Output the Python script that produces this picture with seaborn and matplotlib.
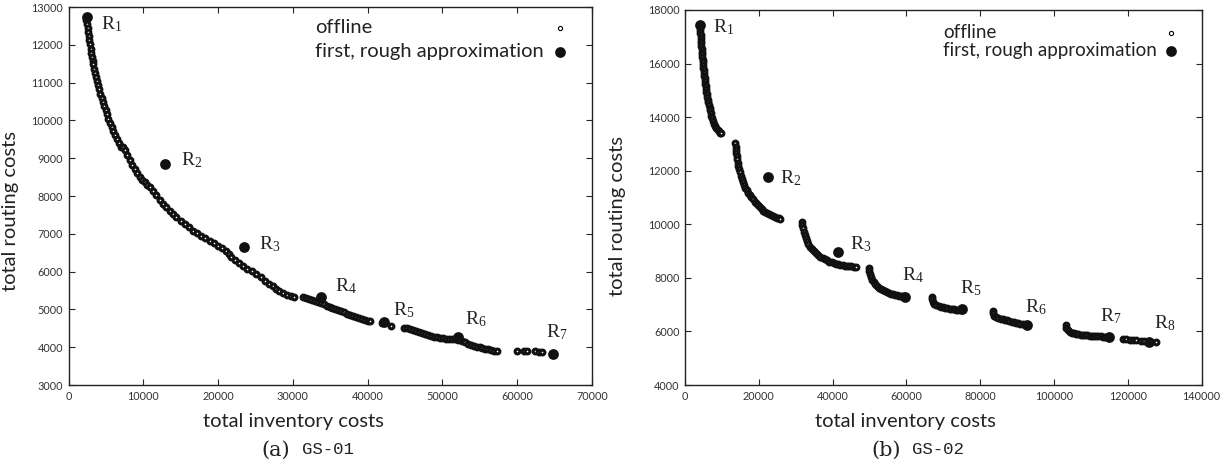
import numpy as np
import pandas as pd
import seaborn as sns
import matplotlib.pyplot as plt

# ---- GS-01 : offline pareto points
gs01_off_x = [2400, 2450, 2550, 2620, 2700, 2780, 2860, 2950, 3040, 3130, 3230, 3330, 3450, 3580,
              3700, 3830, 3960, 4100, 4250, 4420, 4600, 4780, 4960, 5150, 5340, 5530, 5750, 5980,
              6220, 6470, 6740, 7020,
              7300, 7530, 7860, 8200, 8530, 8860, 9200, 9530, 9870, 10200, 10540, 10870, 11310,
              11750, 12200, 12640, 13090, 13540, 13980, 14430, 14980, 15530, 16090, 16640, 17200,
              17750, 18310, 18870, 19430, 19980, 20540, 21090, 21450, 21760, 22270, 22790, 23310,
              23900, 24500, 25090, 25680, 26280, 26870, 27320, 27760, 28200, 28700, 29200, 29700,
              30200,
              31300, 31700, 32100, 32500, 32900, 33300, 33700, 34100, 34500, 34900, 35300, 35700,
              36100, 36500, 36900, 37300, 37700, 38100, 38500, 38900, 39300, 39700, 40000, 40300,
              41900, 43090,
              44870, 45250, 45650, 46050, 46450, 46850, 47300, 47700, 48100, 48500, 48900, 49300,
              49700, 50100, 50500, 50870, 51300, 51700, 52100, 52640, 53000, 53400, 53800, 54200,
              54600, 55000, 55310, 55700, 56100, 56500, 56900, 57310,
              59970, 60870, 61310, 62430, 62870, 63310]
gs01_off_y = [12650, 12550, 12450, 12340, 12230, 12120, 12010, 11900, 11790, 11690, 11580, 11480,
              11370, 11260, 11150, 11040, 10930, 10820, 10710, 10600, 10490, 10380, 10270, 10160,
              10050, 9940, 9830, 9720, 9610, 9500, 9400, 9300,
              9290, 9207, 9075, 8942, 8830, 8715, 8600, 8499, 8430, 8365, 8300, 8234, 8125, 8015,
              7905, 7793, 7700, 7610, 7525, 7438, 7350, 7260, 7170, 7085, 7015, 6950, 6885, 6820,
              6750, 6685, 6620, 6554, 6460, 6377, 6300, 6225, 6156, 6080, 6010, 5936, 5850, 5760,
              5671, 5610, 5550, 5494, 5440, 5390, 5350, 5316,
              5320, 5300, 5280, 5255, 5225, 5195, 5165, 5130, 5100, 5075, 5050, 5020, 4990, 4960,
              4925, 4890, 4860, 4830, 4800, 4775, 4745, 4715, 4695, 4680,
              4650, 4550,
              4520, 4500, 4480, 4460, 4435, 4410, 4388, 4360, 4335, 4305, 4280, 4265, 4250, 4235,
              4222, 4212, 4205, 4205, 4195, 4160, 4130, 4095, 4060, 4035, 4015, 4000, 3990, 3965,
              3940, 3922, 3910, 3902,
              3902, 3900, 3898, 3890, 3880, 3865]

# ---- GS-01 : first, rough approximation
gs01_apx_x = [2500, 12960, 23440, 33760, 42200, 52110, 64730]
gs01_apx_y = [12743, 8854, 6642, 5316, 4679, 4273, 3814]

# ---- GS-02 : offline pareto points
gs02_off_x = [4120, 4160, 4200, 4250, 4300, 4360, 4420, 4480, 4550, 4620, 4690, 4760, 4830, 4900,
              4980, 5060, 5140, 5220, 5310, 5400, 5500, 5600, 5710, 5820, 5940, 6060, 6190, 6330,
              6480, 6640, 6810, 6990, 7180, 7400, 7650, 7920, 8200, 8500, 8820, 9150, 9480, 9700,
              13640, 13720, 13800, 13880, 13980, 14100, 14250, 14430, 14640, 14870, 15120, 15400,
              15700, 16020, 16380, 16760, 17160, 17580, 18000, 18430, 18870, 19320, 19780, 20250,
              20730, 21220, 21720, 22220, 22730, 23250, 23780, 24320, 24870, 25420, 25800,
              31700, 31800, 31950, 32150, 32400, 32700, 33050, 33450, 33900, 34400, 34950, 35500,
              36100, 36700, 37300, 37900, 38500, 39100, 39700, 40300, 40900, 41500, 42100, 42700,
              43300, 43900, 44500, 45100, 45700, 46300,
              49730, 49850, 50050, 50350, 50700, 51100, 51550, 52050, 52600, 53150, 53700, 54250,
              54800, 55350, 55900, 56450, 57000, 57550, 58100, 58650, 59200,
              66800, 66950, 67200, 67600, 68100, 68700, 69300, 69900, 70500, 71100, 71700, 72300,
              72900, 73500, 74100, 74700,
              83350, 83500, 83800, 84300, 84900, 85500, 86100, 86700, 87300, 87900, 88500, 89100,
              89700, 90300, 90900, 91500, 92100, 92600,
              103150, 103350, 103700, 104200, 104800, 105400, 106000, 106600, 107200, 107800,
              108400, 109000, 109600, 110200, 110800, 111400, 112000, 112600, 113200, 113800,
              118630, 119530, 120440, 121340, 122240, 123600, 124400, 127720]
gs02_off_y = [17250, 17150, 17050, 16950, 16850, 16750, 16650, 16550, 16450, 16350, 16250, 16150,
              16050, 15950, 15850, 15750, 15650, 15550, 15450, 15350, 15250, 15150, 15050, 14950,
              14850, 14750, 14650, 14550, 14450, 14350, 14250, 14150, 14050, 13950, 13850, 13760,
              13680, 13600, 13530, 13470, 13420, 13400,
              13020, 12900, 12780, 12660, 12540, 12420, 12300, 12180, 12060, 11940, 11820, 11700,
              11590, 11480, 11370, 11270, 11180, 11090, 11010, 10930, 10850, 10780, 10710, 10640,
              10570, 10510, 10460, 10410, 10370, 10330, 10295, 10265, 10240, 10225, 10215,
              10090, 9970, 9850, 9730, 9610, 9490, 9380, 9270, 9170, 9075, 8990, 8920, 8850, 8790,
              8740, 8690, 8650, 8610, 8575, 8545, 8520, 8500, 8485, 8470, 8455, 8445, 8435, 8425,
              8415, 8410,
              8360, 8250, 8140, 8030, 7930, 7840, 7760, 7690, 7630, 7580, 7540, 7500, 7465, 7435,
              7410, 7390, 7370, 7350, 7335, 7320, 7305,
              7300, 7200, 7110, 7040, 6990, 6955, 6930, 6905, 6885, 6865, 6850, 6835, 6825, 6815,
              6810, 6805,
              6780, 6680, 6590, 6530, 6495, 6470, 6450, 6430, 6410, 6390, 6370, 6350, 6330, 6310,
              6290, 6270, 6255, 6245,
              6240, 6140, 6050, 5990, 5950, 5925, 5905, 5890, 5878, 5868, 5858, 5850, 5843, 5837,
              5830, 5823, 5817, 5812, 5808, 5800,
              5714, 5700, 5688, 5675, 5662, 5645, 5635, 5624]

# ---- GS-02 : first, rough approximation
gs02_apx_x = [4090, 22550, 41370, 59530, 75000, 92720, 114810, 125720]
gs02_apx_y = [17440, 11781, 8959, 7303, 6833, 6247, 5774, 5624]

legend_labels = ['offline', 'first, rough approximation']

# label offsets in pixels (style, not data)
off_a = [(14, -13), (16, -2), (15, -2), (14, 6), (9, 6), (7, 13), (-7, 17)]
off_b = [(13, -7), (12, -7), (12, 3), (-3, 16), (-2, 16), (-2, 13), (-9, 16), (5, 13)]

sns.set_style("ticks")
plt.rcParams['font.family'] = ['Lato', 'DejaVu Sans']
plt.rcParams['mathtext.default'] = 'regular'

fig = plt.figure(figsize=(12.31, 4.66), dpi=100)
W, H = 1231, 466
DARK = '#222222'


def panel(rect, offx, offy, apx_x, apx_y, offsets, xlim, xstep, ylim, ystep, leg):
    ax = fig.add_axes(rect)
    # thick-edged small rings so the dense fronts read as a solid band
    sns.scatterplot(x=offx, y=offy, ax=ax, s=12, color='white', edgecolor='#111111',
                    linewidth=2.2, zorder=2, legend=False)
    sns.scatterplot(x=apx_x, y=apx_y, ax=ax, s=60, color='#111111', edgecolor='#111111',
                    linewidth=0, zorder=3, legend=False)
    for i, (x, y) in enumerate(zip(apx_x, apx_y)):
        ax.annotate('R$_{%d}$' % (i + 1), (x, y), xytext=offsets[i], textcoords='offset pixels',
                    ha='left', va='baseline', fontsize=14, family='Liberation Serif', color=DARK)
    ax.set_xlim(*xlim)
    ax.set_ylim(*ylim)
    ax.set_xticks(np.arange(xlim[0], xlim[1] + 1, xstep))
    ax.set_yticks(np.arange(ylim[0], ylim[1] + 1, ystep))
    ax.tick_params(direction='in', top=True, right=True, length=4, width=0.8,
                   labelsize=7.8, labelcolor='#333333', pad=4)
    for sp in ax.spines.values():
        sp.set_linewidth(1.0)
        sp.set_color(DARK)
    ax.set_xlabel('total inventory costs', fontsize=14.5, color=DARK)
    ax.set_ylabel('total routing costs', fontsize=14.5, color=DARK)

    # gnuplot-like key: text left aligned, symbol on the right
    tx, mx, ys, size = leg
    ax.text(tx, ys[0], legend_labels[0], transform=ax.transAxes, ha='left', va='center',
            fontsize=size, color=DARK)
    ax.text(tx, ys[1], legend_labels[1], transform=ax.transAxes, ha='left', va='center',
            fontsize=size, color=DARK)
    ax.scatter([mx], [ys[0]], transform=ax.transAxes, s=9, facecolor='white',
               edgecolor='black', linewidth=0.8, clip_on=False, zorder=4)
    ax.scatter([mx], [ys[1]], transform=ax.transAxes, s=60, color='#111111', linewidth=0,
               clip_on=False, zorder=4)
    return ax


ax1 = panel([68.5 / W, 81 / H, 523.5 / W, 378 / H], gs01_off_x, gs01_off_y,
            gs01_apx_x, gs01_apx_y, off_a, (0, 70000), 10000, (3000, 13000), 1000,
            (0.471, 0.939, (0.945, 0.881), 14.5))
ax1.xaxis.set_label_coords(0.43, -0.075)
ax1.yaxis.set_label_coords(-0.095, 0.46)

ax2 = panel([685 / W, 81 / H, 516.7 / W, 375 / H], gs02_off_x, gs02_off_y,
            gs02_apx_x, gs02_apx_y, off_b, (0, 140000), 20000, (4000, 18000), 2000,
            (0.499, 0.940, (0.9395, 0.891), 13.5))
ax2.xaxis.set_label_coords(0.427, -0.075)
ax2.yaxis.set_label_coords(-0.115, 0.45)

# sub-captions
for xa, xb, tag, name in [(261.7, 301.7, '(a)', 'GS-01'), (871.7, 911.7, '(b)', 'GS-02')]:
    fig.text(xa / W, 16 / H, tag, ha='left', va='center', fontsize=15, family='DejaVu Serif',
             color=DARK)
    fig.text(xb / W, 16 / H, name, ha='left', va='center', fontsize=12.5,
             family='Liberation Mono', color=DARK)

fig.savefig('out.png', dpi=100)
